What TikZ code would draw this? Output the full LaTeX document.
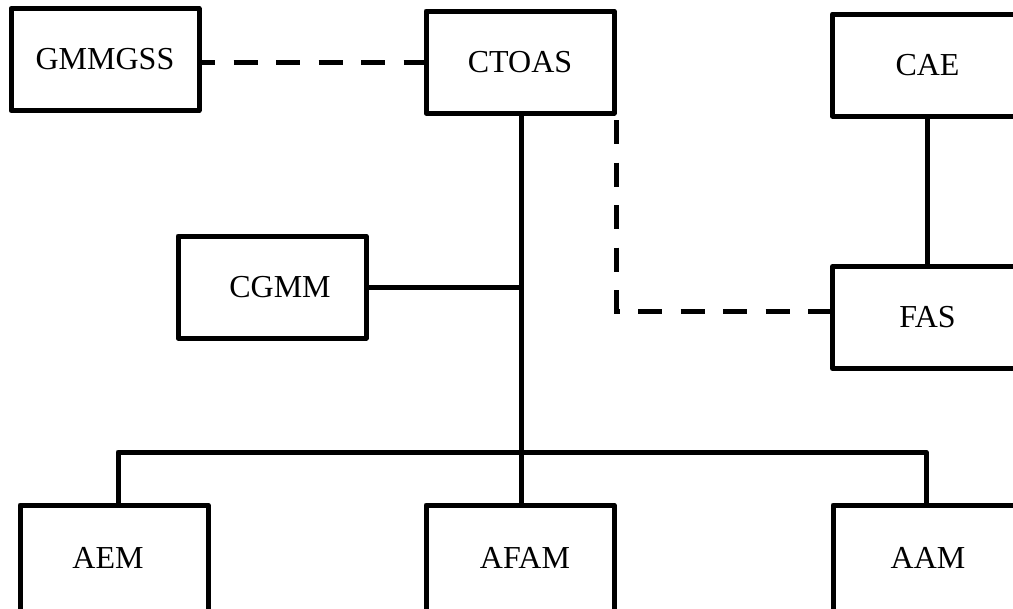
\documentclass[tikz,border=0pt]{standalone}
\usepackage{fontspec}
\setmainfont{Liberation Serif}
\begin{document}
\begin{tikzpicture}[x=0.75pt,y=-0.75pt,
  box/.style={draw,rectangle,line width=3.75pt,line join=round,inner sep=0pt,
    minimum width=141pt,minimum height=76.5pt,font=\fontsize{24}{28}\selectfont},
  wide/.style={minimum width=142.5pt},
  low/.style={minimum height=79.5pt},
  link/.style={line width=3.75pt},
  dlink/.style={line width=3.75pt,dash pattern=on 18pt off 13.875pt}]
\useasboundingbox (0,0) rectangle (1013,608);
\clip (0,0) rectangle (1013,608);

% boxes
\node[box] (gmmgss) at (105,59.5) {GMMGSS};
\node[box] (ctoas) at (520,62) {CTOAS};
\node[box,wide] (cae) at (927.5,65) {CAE};
\node[box] (cgmm) at (272,287) {\hspace*{12pt}CGMM};
\node[box,wide] (fas) at (927.5,317.5) {FAS};
\node[box,low] (aem) at (114,558) {AEM\hspace*{9pt}};
\node[box,low] (afam) at (520,558) {\hspace*{7.5pt}AFAM};
\node[box,low,wide] (aam) at (928,558) {AAM};

% dashed links
\draw[dlink,dash phase=7.875pt] (gmmgss.east |- ctoas.west) -- (ctoas.west);
\draw[dlink,dash phase=28.5pt] (ctoas.south east) |- ([yshift=4.875pt]fas.west);

% solid links
\coordinate (trunk) at ([xshift=1.1pt]ctoas.south);
\coordinate (bus) at (521.5,452);
\draw[link] (trunk) -- (trunk |- afam.north);
\draw[link] (cgmm.east) -- (cgmm.east -| trunk);
\draw[link,line join=round] ([xshift=3pt]aem.north) |- (bus) -| ([xshift=-1.5pt]aam.north);
\draw[link] (cae.south) -- (fas.north);
\end{tikzpicture}
\end{document}
